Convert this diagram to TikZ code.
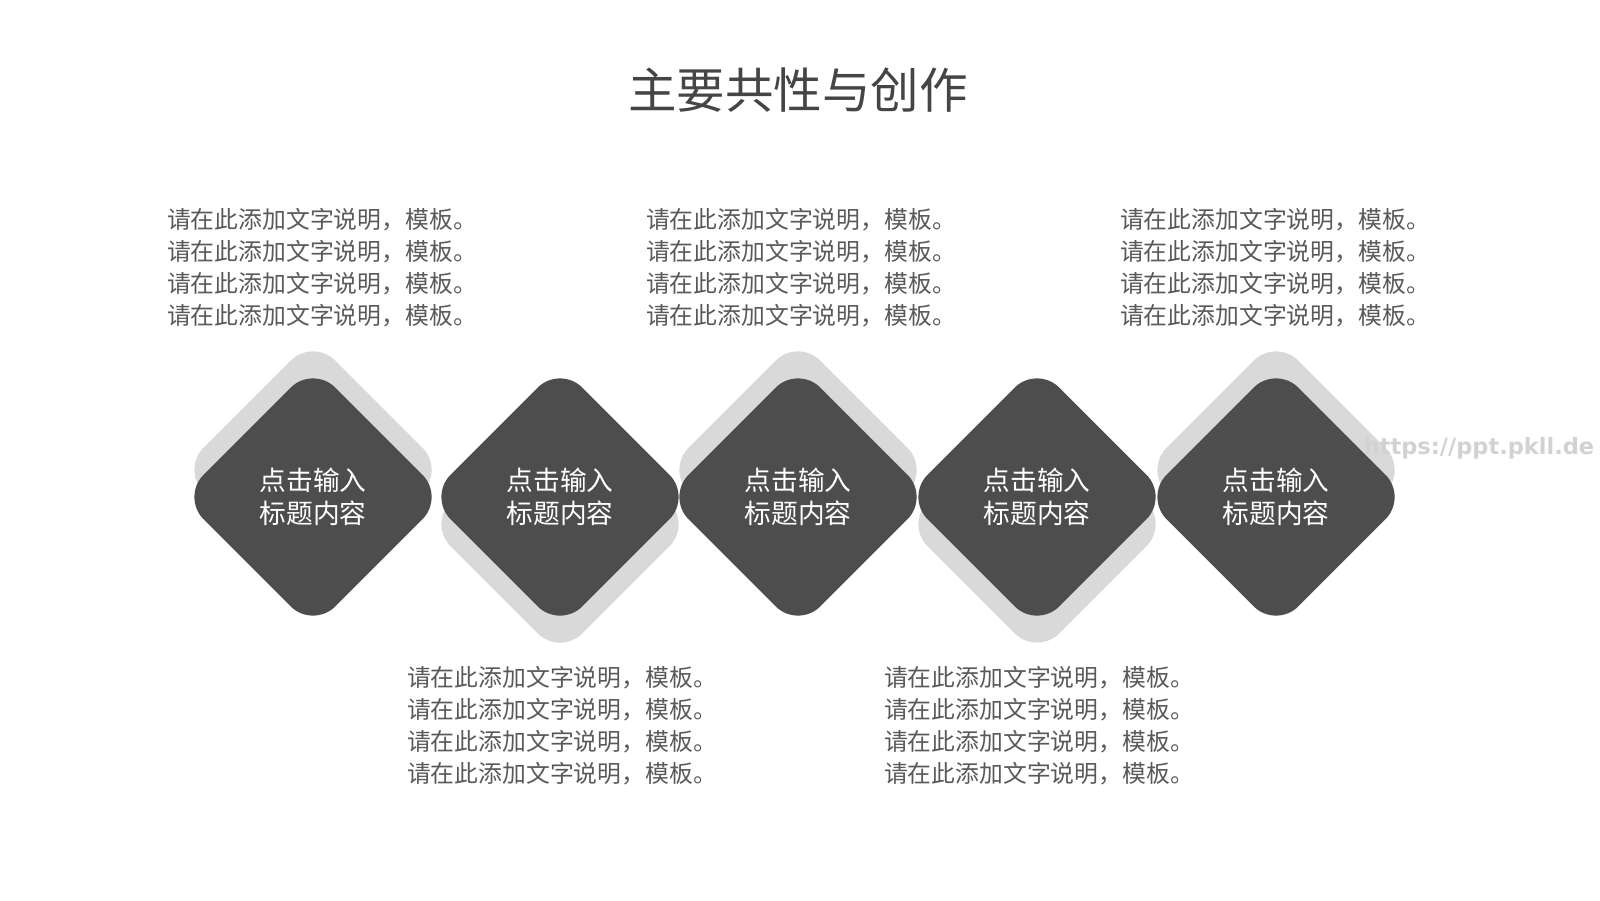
\documentclass[tikz,border=0pt]{standalone}
\usepackage{fontspec}
\setmainfont{Noto Sans CJK SC}
\newfontfamily\urlfont{DejaVu Sans}
\usetikzlibrary{positioning,shapes.geometric,backgrounds}
\definecolor{diadark}{HTML}{4D4D4D}
\definecolor{diaback}{HTML}{D9D9D9}
\definecolor{descgray}{HTML}{595959}
\definecolor{titlegray}{HTML}{454545}
\definecolor{markgray}{HTML}{D2D2D2}

\begin{document}
\begin{tikzpicture}[
  on grid,
  dia/.style={shape=diamond, aspect=1, inner sep=0pt, minimum width=2.64cm, minimum height=2.64cm, rounded corners=9pt, fill=diadark, text=white, align=center, font=\fontsize{7.6}{9.4}\selectfont},
  backdia/.style={shape=diamond, aspect=1, inner sep=0pt, minimum width=2.64cm, minimum height=2.64cm, rounded corners=9pt, fill=diaback},
  desc/.style={align=left, inner sep=0pt, text=descgray, font=\fontsize{6.78}{9.1}\selectfont},
  headline/.style={inner sep=0pt, text=titlegray, font=\fontsize{13.8}{16}\selectfont},
  urlmark/.style={inner sep=0pt, text=markgray, font=\urlfont\bfseries\fontsize{6.4}{8}\selectfont}
]
\useasboundingbox (0,0) rectangle (16,9);

\node[dia] (d1) at (3.13,4.03) {点击输入\\标题内容};
\node[dia, right=2.47cm of d1] (d2) {点击输入\\标题内容};
\node[dia, right=2.38cm of d2] (d3) {点击输入\\标题内容};
\node[dia, right=2.39cm of d3] (d4) {点击输入\\标题内容};
\node[dia, right=2.39cm of d4] (d5) {点击输入\\标题内容};

\begin{scope}[on background layer]
\node[backdia, above=0.27cm of d1] (b1) {};
\node[backdia, below=0.27cm of d2] (b2) {};
\node[backdia, above=0.27cm of d3] (b3) {};
\node[backdia, below=0.27cm of d4] (b4) {};
\node[backdia, above=0.27cm of d5] (b5) {};
\end{scope}

\node[headline, above=4.07cm of d3] (head) {主要共性与创作};

\node[desc, above=2.29cm of d1, xshift=0.09cm] (t1) {请在此添加文字说明，模板。\\请在此添加文字说明，模板。\\请在此添加文字说明，模板。\\请在此添加文字说明，模板。};
\node[desc, below=2.29cm of d2, xshift=0.02cm] (t2) {请在此添加文字说明，模板。\\请在此添加文字说明，模板。\\请在此添加文字说明，模板。\\请在此添加文字说明，模板。};
\node[desc, above=2.29cm of d3, xshift=0.03cm] (t3) {请在此添加文字说明，模板。\\请在此添加文字说明，模板。\\请在此添加文字说明，模板。\\请在此添加文字说明，模板。};
\node[desc, below=2.29cm of d4, xshift=0.02cm] (t4) {请在此添加文字说明，模板。\\请在此添加文字说明，模板。\\请在此添加文字说明，模板。\\请在此添加文字说明，模板。};
\node[desc, above=2.29cm of d5, xshift=-0.01cm] (t5) {请在此添加文字说明，模板。\\请在此添加文字说明，模板。\\请在此添加文字说明，模板。\\请在此添加文字说明，模板。};

\node[urlmark] (url) at (14.79,4.52) {https://ppt.pkll.de};

\end{tikzpicture}
\end{document}
